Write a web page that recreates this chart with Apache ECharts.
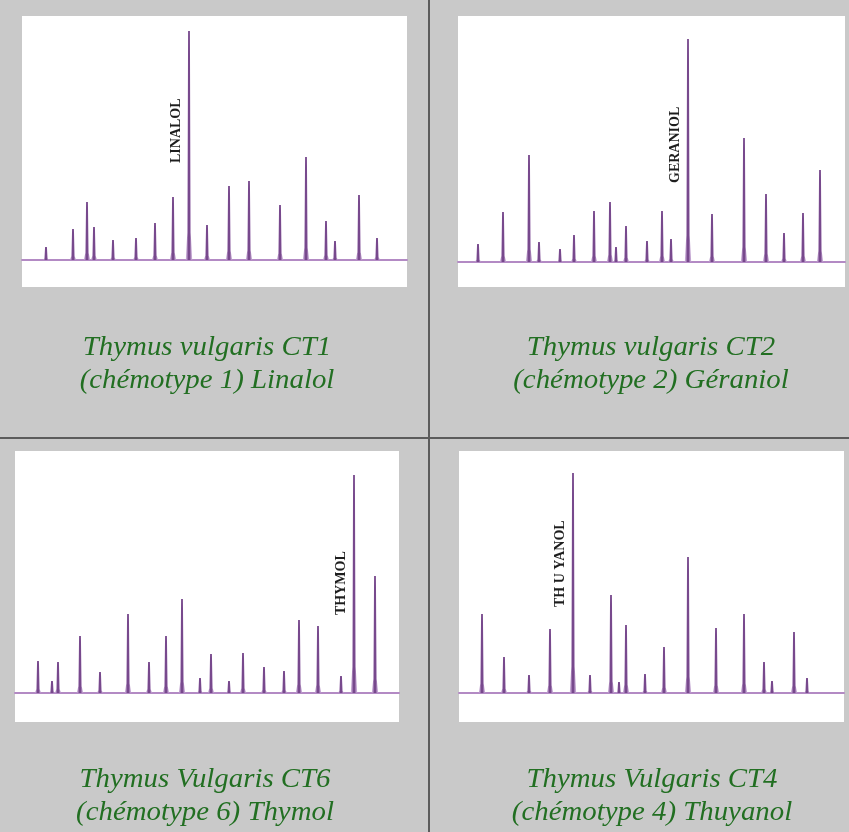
<!DOCTYPE html>
<html>
<head>
<meta charset="utf-8">
<script src="https://cdn.jsdelivr.net/npm/echarts@6/dist/echarts.min.js"></script>
<style>
  html, body { margin: 0; padding: 0; background: #c9c9c9; }
  #main { width: 849px; height: 832px; }
</style>
</head>
<body>
<div id="main"></div>
<script>
var ct1X = [24, 51, 65, 72, 91, 114, 133, 151, 167, 185, 207, 227, 258, 284, 304, 313, 337, 355];
var ct1H = [13, 31, 58, 33, 20, 22, 37, 63, 229, 35, 74, 79, 55, 103, 39, 19, 65, 22];

var ct2X = [20, 45, 71, 81, 102, 116, 136, 152, 158, 168, 189, 204, 213, 230, 254, 286, 308, 326, 345, 362];
var ct2H = [18, 50, 107, 20, 13, 27, 51, 60, 15, 36, 21, 51, 23, 223, 48, 124, 68, 29, 49, 92];

var ct6X = [23, 37, 43, 65, 85, 113, 134, 151, 167, 185, 196, 214, 228, 249, 269, 284, 303, 326, 339, 360];
var ct6H = [32, 12, 31, 57, 21, 79, 31, 57, 94, 15, 39, 12, 40, 26, 22, 73, 67, 17, 218, 117];

var ct4X = [23, 45, 70, 91, 114, 131, 152, 160, 167, 186, 205, 229, 257, 285, 305, 313, 335, 348];
var ct4H = [79, 36, 18, 64, 220, 18, 98, 11, 68, 19, 46, 136, 65, 79, 31, 12, 61, 15];

var captions = [
  'Thymus vulgaris CT1\n(chémotype 1) Linalol',
  'Thymus vulgaris CT2\n(chémotype 2) Géraniol',
  'Thymus Vulgaris CT6\n(chémotype 6) Thymol',
  'Thymus Vulgaris CT4\n(chémotype 4) Thuyanol'
];
var peakNames = ['LINALOL', 'GERANIOL', 'THYMOL', 'TH U YANOL'];
var namedPeak = [8, 13, 18, 4];   // indice du pic nommé
var nameLift = [97, 79, 78, 86];  // bas du libellé, au-dessus de la ligne de base

var panels = [
  { x: ct1X, h: ct1H, left: 22,  top: 16,  width: 385, ymin: -27, ymax: 244, cx: 207, capY: 331 },
  { x: ct2X, h: ct2H, left: 458, top: 16,  width: 387, ymin: -25, ymax: 246, cx: 651, capY: 331 },
  { x: ct6X, h: ct6H, left: 15,  top: 451, width: 384, ymin: -29, ymax: 242, cx: 205, capY: 763 },
  { x: ct4X, h: ct4H, left: 459, top: 451, width: 385, ymin: -29, ymax: 242, cx: 652, capY: 763 }
];

var myChart = echarts.init(document.getElementById('main'));

var peakFill = new echarts.graphic.LinearGradient(0, 0, 1, 0, [
  { offset: 0, color: 'rgba(210,180,225,0.85)' },
  { offset: 0.5, color: '#63307a' },
  { offset: 1, color: 'rgba(210,180,225,0.85)' }
]);

function makeRender(p) {
  return function (params, api) {
    var x = api.value(0), h = api.value(1);
    var b = api.coord([x, 0]);
    var t = api.coord([x, h]);
    var k = (b[1] - t[1]) * 0.12;
    var peak = {
      type: 'polygon',
      shape: { points: [
        [b[0] - 3.2, b[1]], [b[0] - 1.7, b[1] - k], [t[0] - 0.9, t[1]],
        [t[0] + 0.9, t[1]], [b[0] + 1.7, b[1] - k], [b[0] + 3.2, b[1]]
      ] },
      style: { fill: peakFill }
    };
    if (params.dataIndex !== namedPeak[p]) return peak;
    var lb = api.coord([x, nameLift[p]]);
    return {
      type: 'group',
      children: [peak, {
        type: 'text',
        x: lb[0] - 13, y: lb[1],
        rotation: Math.PI / 2,
        style: {
          text: peakNames[p],
          textAlign: 'left', textVerticalAlign: 'middle',
          font: 'bold 14px "Liberation Serif"',
          fill: '#1e1e1e'
        }
      }]
    };
  };
}

var grids = [], xAxes = [], yAxes = [], series = [], graphics = [];
panels.forEach(function (pn, i) {
  grids.push({ left: pn.left, top: pn.top, width: pn.width, height: 271,
    show: true, backgroundColor: '#ffffff', borderWidth: 0 });
  xAxes.push({ type: 'value', gridIndex: i, min: 0, max: pn.width,
    axisLine: { onZero: true, lineStyle: { color: '#b38ac4', width: 2 } },
    axisTick: { show: false }, axisLabel: { show: false }, splitLine: { show: false } });
  yAxes.push({ type: 'value', gridIndex: i, min: pn.ymin, max: pn.ymax,
    axisLine: { show: false }, axisTick: { show: false },
    axisLabel: { show: false }, splitLine: { show: false } });
  series.push({
    type: 'custom', xAxisIndex: i, yAxisIndex: i,
    renderItem: makeRender(i),
    data: pn.x.map(function (v, j) { return [v, pn.h[j]]; })
  });
  graphics.push({
    type: 'text', x: pn.cx, y: pn.capY, scaleX: 1.03, originX: 0,
    style: {
      text: captions[i], textAlign: 'center', textVerticalAlign: 'top',
      font: 'italic 28px "Liberation Serif"', lineHeight: 33, fill: '#226f22'
    }
  });
});

// séparateurs du tableau
graphics.push({ type: 'line', shape: { x1: 429, y1: 0, x2: 429, y2: 832 },
  style: { stroke: '#5c5c5c', lineWidth: 2 } });
graphics.push({ type: 'line', shape: { x1: 0, y1: 438, x2: 849, y2: 438 },
  style: { stroke: '#5c5c5c', lineWidth: 2 } });

option = {
  backgroundColor: '#c9c9c9',
  animation: false,
  grid: grids,
  xAxis: xAxes,
  yAxis: yAxes,
  series: series,
  graphic: graphics
};
myChart.setOption(option);
</script>
</body>
</html>
